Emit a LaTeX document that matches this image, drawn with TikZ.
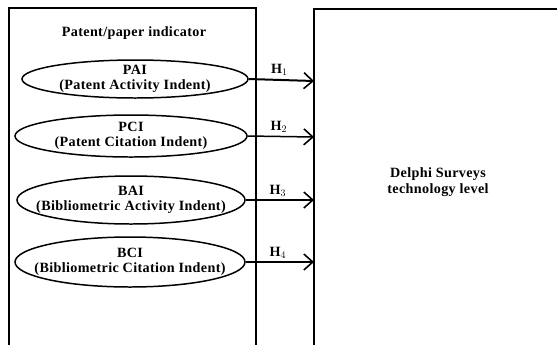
\documentclass[tikz,border=0pt]{standalone}
\usepackage{fontspec}
\setmainfont{Liberation Serif}[LetterSpace=2.5]
\usetikzlibrary{shapes.geometric,arrows.meta}
\begin{document}
\begin{tikzpicture}[x=1bp,y=-1bp,
  box/.style={line width=1.5pt},
  txt/.style={font=\fontsize{14.2}{15.5}\selectfont\bfseries},
  ind/.style={ellipse,draw,line width=1.5pt,inner sep=0pt},
  hyp/.style={line width=1.5pt,-{Straight Barb[length=9bp,width=16bp,line width=1.6pt]}},
  lab/.style={txt,align=center,inner sep=0pt}]
\useasboundingbox (0,0) rectangle (557,345);
\draw[box] (9,345) -- (9,8) -- (256,8) -- (256,345);
\draw[box] (314,345) -- (314,9) -- (557,9);
\coordinate (rb1) at (314,81);
\coordinate (rb2) at (314,137);
\coordinate (rb3) at (314,200);
\coordinate (rb4) at (314,262);
\node[lab] (title) at (134,33) {Patent/paper indicator};
\node[ind,minimum width=226bp,minimum height=38bp] (pai) at (135,79) {};
\node[ind,minimum width=232bp,minimum height=42bp] (pci) at (131,136) {};
\node[ind,minimum width=228bp,minimum height=48bp] (bai) at (131,200) {};
\node[ind,minimum width=230bp,minimum height=50bp] (bci) at (130,262) {};
\node[lab] (paitxt) at (pai.center) {PAI\\(Patent Activity Indent)};
\node[lab] (pcitxt) at (pci.center) {PCI\\(Patent Citation Indent)};
\node[lab] (baitxt) at (bai.center) {BAI\\(Bibliometric Activity Indent)};
\node[lab] (bcitxt) at (bci.center) {BCI\\(Bibliometric Citation Indent)};
\node[lab] (delphi) at (438,182) {Delphi Surveys\\technology level};
\draw[hyp,line width=2pt] (pai.east) -- (rb1) node[pos=0.47,above=3pt,lab] {H$_1$};
\draw[hyp] (pci.east) -- (rb2) node[pos=0.47,above=3pt,lab] {H$_2$};
\draw[hyp] (bai.east) -- (rb3) node[pos=0.47,above=3pt,lab] {H$_3$};
\draw[hyp] (bci.east) -- (rb4) node[pos=0.47,above=3pt,lab] {H$_4$};
\end{tikzpicture}
\end{document}
